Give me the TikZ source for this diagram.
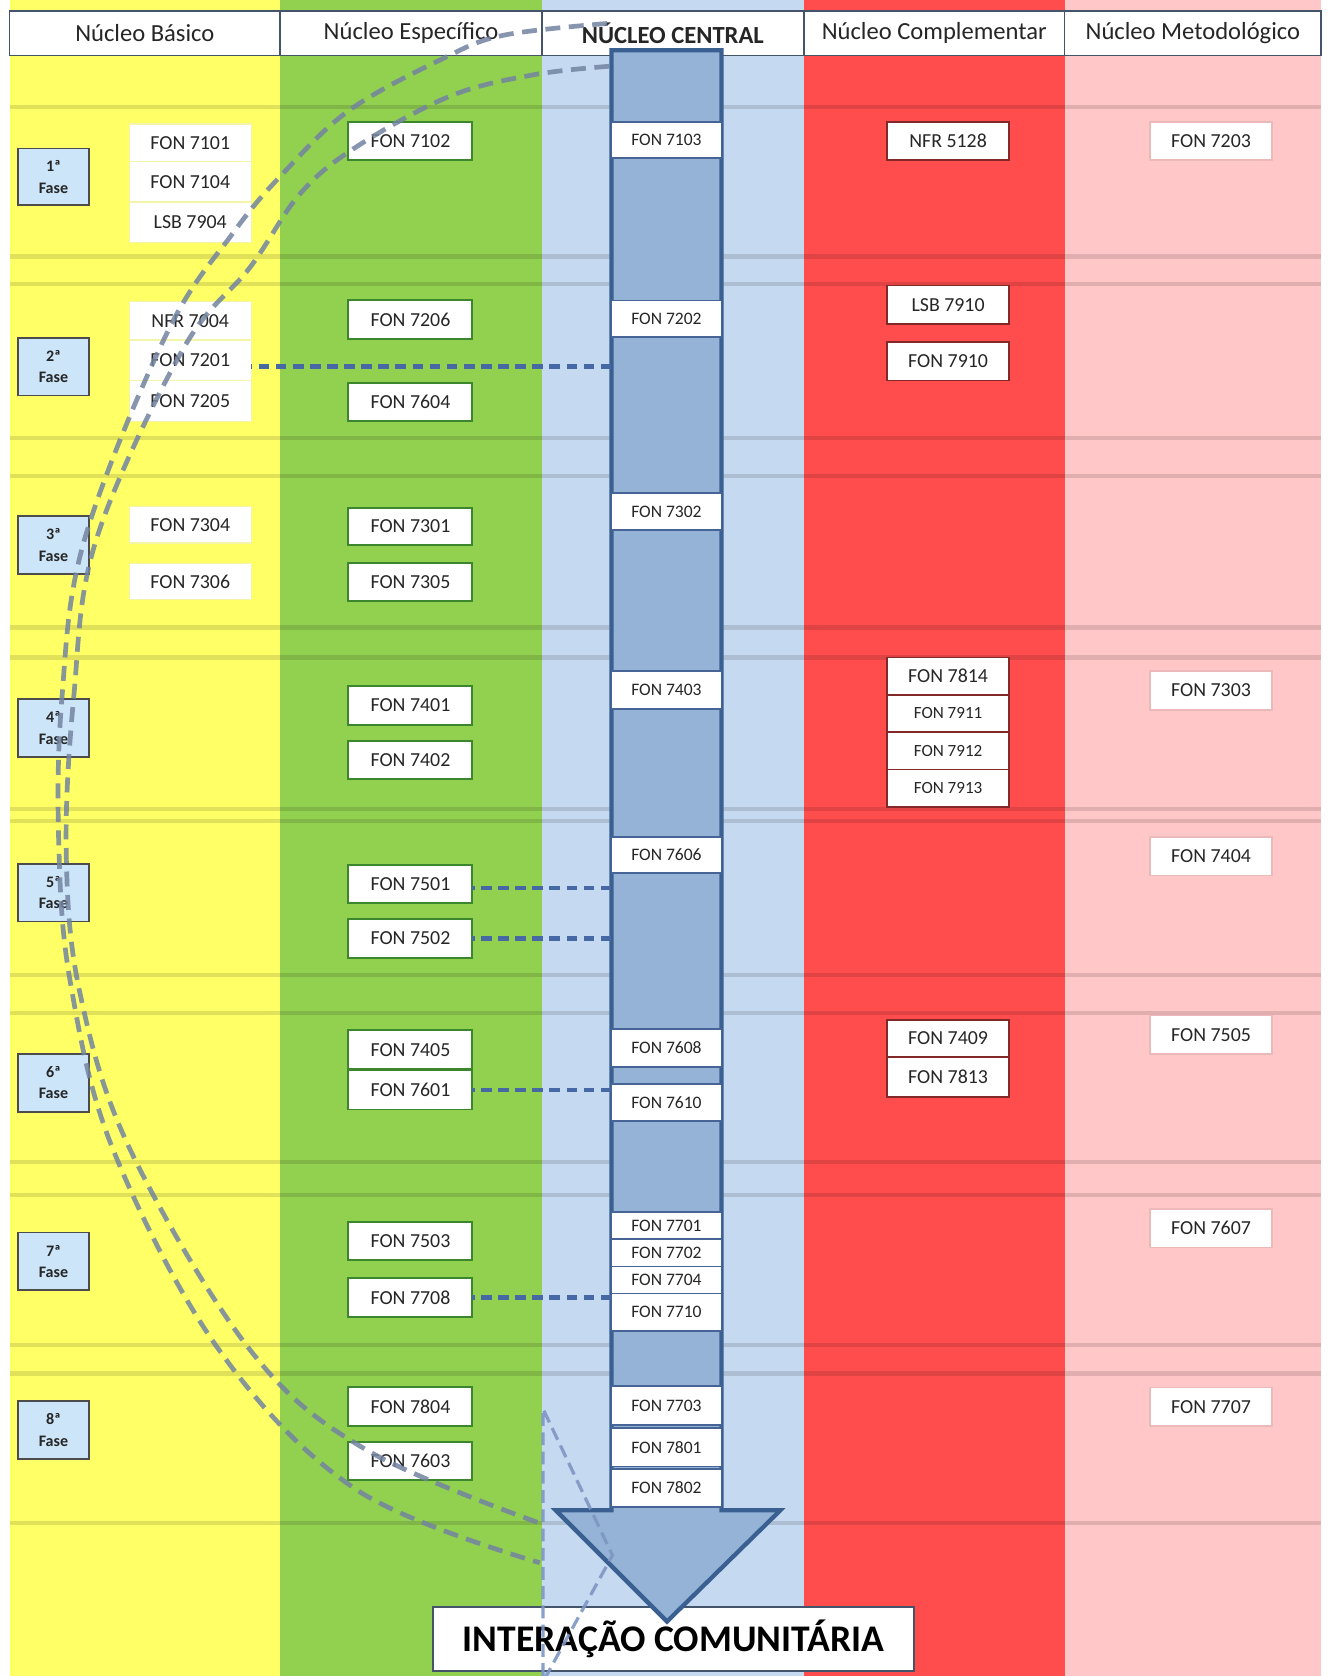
\documentclass[tikz,border=0pt]{standalone}
\usepackage{fontspec}
\setmainfont{Carlito}
\usetikzlibrary{calc}
\definecolor{cyel}{RGB}{255,255,102}
\definecolor{cgrn}{RGB}{146,208,80}
\definecolor{cblu}{RGB}{197,217,241}
\definecolor{cred}{RGB}{255,77,77}
\definecolor{cpnk}{RGB}{255,199,199}
\definecolor{cbar}{RGB}{149,179,215}
\definecolor{cbarb}{RGB}{58,95,145}
\definecolor{hdrb}{RGB}{68,84,106}
\definecolor{gborder}{RGB}{60,135,45}
\definecolor{cborder}{RGB}{70,100,150}
\definecolor{rborder}{RGB}{130,40,40}
\definecolor{pborder}{RGB}{235,185,185}
\definecolor{yborder}{RGB}{245,245,170}
\definecolor{cfase}{RGB}{204,229,248}
\definecolor{clink}{RGB}{70,105,165}
\definecolor{carc}{RGB}{115,132,160}
\definecolor{cbot}{RGB}{125,150,195}
\newcommand\placebox[7]{\node[#1, minimum width={(#4-#2)*0.5pt}, minimum height={(#5-#3)*0.5pt}] (#6) at ({(#2+#4)/2},{(#3+#5)/2}) {#7};}
\begin{document}
\begin{tikzpicture}[x=0.5pt,y=-0.5pt]
\tikzset{
  hdr/.style={draw=hdrb, line width=0.8pt, fill=white, inner sep=0pt, outer sep=0pt, font=\fontsize{11.5pt}{13pt}\selectfont, text=black!85},
  basebox/.style={fill=white, inner sep=0pt, outer sep=0pt, text=black!85, font=\fontsize{9.3pt}{11pt}\selectfont},
  ybox/.style={basebox, draw=yborder, line width=0.6pt},
  gbox/.style={basebox, draw=gborder, line width=0.9pt},
  cenbox/.style={basebox, draw=cborder, line width=0.8pt, font=\fontsize{8.2pt}{10pt}\selectfont},
  rbox/.style={basebox, draw=rborder, line width=0.8pt},
  rsbox/.style={rbox, font=\fontsize{8pt}{10pt}\selectfont},
  pbox/.style={basebox, draw=pborder, line width=0.8pt},
  fase/.style={fill=cfase, draw=black!70, line width=0.8pt, inner sep=0pt, outer sep=0pt, align=center, text=black!85, font=\bfseries\fontsize{7.5pt}{10pt}\selectfont},
  hlink/.style={draw=clink, line width=2pt, dash pattern=on 5pt off 3pt},
  arcdash/.style={draw=carc, line width=2.2pt, dash pattern=on 7pt off 4pt, opacity=0.85},
  botdash/.style={draw=cbot, line width=1.5pt, dash pattern=on 6pt off 3pt, opacity=0.9},
  rowline/.style={draw=black, opacity=0.12, line width=2pt},
  bigbox/.style={fill=white, draw=hdrb, line width=0.9pt, inner sep=0pt, outer sep=0pt, text=black, font=\bfseries\fontsize{17.6pt}{20pt}\selectfont},
}
\useasboundingbox (0,0) rectangle (1244,1568);
\fill[white] (0,0) rectangle (1244,1568);
% columns
\fill[cyel] (9,0) rectangle (262,1568);
\fill[cgrn] (262,0) rectangle (507,1568);
\fill[cblu] (507,0) rectangle (752,1568);
\fill[cred] (752,0) rectangle (996,1568);
\fill[cpnk] (996,0) rectangle (1236,1568);
% row lines
\foreach \yy in {100,240,266,410,445,587,615,757,768,912,948,1087,1118,1258,1285,1425}
  \draw[rowline] (9,\yy) -- (1236,\yy);
% header
\placebox{hdr}{9}{10}{262}{52}{h1}{Núcleo Básico}
\placebox{hdr}{262}{10}{507}{52}{h2}{Núcleo Específico}
\placebox{hdr}{507}{10}{752}{52}{h3}{\textbf{NÚCLEO CENTRAL}}
\placebox{hdr}{752}{10}{996}{52}{h4}{Núcleo Complementar}
\placebox{hdr}{996}{10}{1236}{52}{h5}{Núcleo Metodológico}
% fases
\placebox{fase}{17}{139}{83}{192}{f1}{1ª\\Fase}
\placebox{fase}{17}{316}{83}{370}{f2}{2ª\\Fase}
\placebox{fase}{17}{483}{83}{537}{f3}{3ª\\Fase}
\placebox{fase}{17}{654}{83}{708}{f4}{4ª\\Fase}
\placebox{fase}{17}{808}{83}{862}{f5}{5ª\\Fase}
\placebox{fase}{17}{986}{83}{1040}{f6}{6ª\\Fase}
\placebox{fase}{17}{1153}{83}{1207}{f7}{7ª\\Fase}
\placebox{fase}{17}{1311}{83}{1365}{f8}{8ª\\Fase}
% basic column
\placebox{ybox}{121}{116}{235}{151}{b7101}{FON 7101}
\placebox{ybox}{121}{151}{235}{189}{b7104}{FON 7104}
\placebox{ybox}{121}{189}{235}{227}{b7904}{LSB 7904}
\placebox{ybox}{121}{282}{235}{318}{b7004}{NFR 7004}
\placebox{ybox}{121}{318}{235}{356}{b7201}{FON 7201}
\placebox{ybox}{121}{356}{235}{394}{b7205}{FON 7205}
\placebox{ybox}{121}{474}{235}{508}{b7304}{FON 7304}
\placebox{ybox}{121}{527}{235}{561}{b7306}{FON 7306}
% specific column
\placebox{gbox}{326}{114}{442}{150}{e7102}{FON 7102}
\placebox{gbox}{326}{281}{442}{317}{e7206}{FON 7206}
\placebox{gbox}{326}{358}{442}{394}{e7604}{FON 7604}
\placebox{gbox}{326}{475}{442}{510}{e7301}{FON 7301}
\placebox{gbox}{326}{527}{442}{562}{e7305}{FON 7305}
\placebox{gbox}{326}{642}{442}{678}{e7401}{FON 7401}
\placebox{gbox}{326}{693}{442}{729}{e7402}{FON 7402}
\placebox{gbox}{326}{809}{442}{845}{e7501}{FON 7501}
\placebox{gbox}{326}{860}{442}{896}{e7502}{FON 7502}
\placebox{gbox}{326}{964}{442}{1000}{e7405}{FON 7405}
\placebox{gbox}{326}{1001}{442}{1038}{e7601}{FON 7601}
\placebox{gbox}{326}{1143}{442}{1179}{e7503}{FON 7503}
\placebox{gbox}{326}{1196}{442}{1232}{e7708}{FON 7708}
\placebox{gbox}{326}{1298}{442}{1334}{e7804}{FON 7804}
\placebox{gbox}{326}{1349}{442}{1385}{e7603}{FON 7603}
% complementary column
\placebox{rbox}{830}{114}{944}{150}{r5128}{NFR 5128}
\placebox{rbox}{830}{267}{944}{303}{r7910l}{LSB 7910}
\placebox{rbox}{830}{320}{944}{356}{r7910}{FON 7910}
\placebox{rbox}{830}{615}{944}{650}{r7814}{FON 7814}
\placebox{rsbox}{830}{650}{944}{685}{r7911}{FON 7911}
\placebox{rsbox}{830}{685}{944}{720}{r7912}{FON 7912}
\placebox{rsbox}{830}{720}{944}{755}{r7913}{FON 7913}
\placebox{rbox}{830}{954}{944}{989}{r7409}{FON 7409}
\placebox{rbox}{830}{989}{944}{1026}{r7813}{FON 7813}
% methodological column
\placebox{pbox}{1076}{114}{1190}{150}{p7203}{FON 7203}
\placebox{pbox}{1076}{628}{1190}{664}{p7303}{FON 7303}
\placebox{pbox}{1076}{783}{1190}{819}{p7404}{FON 7404}
\placebox{pbox}{1076}{950}{1190}{986}{p7505}{FON 7505}
\placebox{pbox}{1076}{1131}{1190}{1167}{p7607}{FON 7607}
\placebox{pbox}{1076}{1298}{1190}{1334}{p7707}{FON 7707}
% result box
\placebox{bigbox}{405}{1503}{855}{1563}{ic}{INTERAÇÃO COMUNITÁRIA}
% central arrow
\coordinate (barL) at (572,0);
\draw[cbarb, fill=cbar, line width=2pt, line join=miter]
  (572,47) -- (675,47) -- (675,1413) -- (730,1413) -- (624,1517) -- (520,1413) -- (572,1413) -- cycle;
% central boxes
\placebox{cenbox}{572}{114}{675}{148}{c7103}{FON 7103}
\placebox{cenbox}{572}{281}{675}{315}{c7202}{FON 7202}
\placebox{cenbox}{572}{461}{675}{496}{c7302}{FON 7302}
\placebox{cenbox}{572}{628}{675}{663}{c7403}{FON 7403}
\placebox{cenbox}{572}{783}{675}{817}{c7606}{FON 7606}
\placebox{cenbox}{572}{963}{675}{998}{c7608}{FON 7608}
\placebox{cenbox}{572}{1014}{675}{1049}{c7610}{FON 7610}
\placebox{cenbox}{572}{1134}{675}{1159}{c7701}{FON 7701}
\placebox{cenbox}{572}{1159}{675}{1185}{c7702}{FON 7702}
\placebox{cenbox}{572}{1185}{675}{1210}{c7704}{FON 7704}
\placebox{cenbox}{572}{1210}{675}{1245}{c7710}{FON 7710}
\placebox{cenbox}{572}{1297}{675}{1333}{c7703}{FON 7703}
\placebox{cenbox}{572}{1336}{675}{1372}{c7801}{FON 7801}
\placebox{cenbox}{572}{1374}{675}{1410}{c7802}{FON 7802}
% horizontal dashed links (drawn from the bar so a full dash meets it)
\draw[hlink] ([yshift=-3pt]b7201.east -| barL) -- ([yshift=-3pt]b7201.east);
\draw[hlink] ([yshift=-2pt]e7501.east -| barL) -- ([yshift=-2pt]e7501.east);
\draw[hlink] (e7502.east -| barL) -- (e7502.east);
\draw[hlink] (e7601.east -| barL) -- (e7601.east);
\draw[hlink] (e7708.east -| barL) -- (e7708.east);
% big dashed arcs
\draw[arcdash] plot[smooth, tension=0.6] coordinates {(568,22) (471,33) (414,55) (327,103) (265,162) (218,218) (156,312) (79,505) (58,652) (55,790) (66,920) (106,1076) (205,1263) (334,1394) (505,1462)};
\draw[arcdash] plot[smooth, tension=0.6] coordinates {(570,62) (499,70) (421,90) (334,137) (281,181) (234,250) (171,327) (90,505) (69,652) (62,800) (75,930) (122,1076) (234,1263) (342,1356) (505,1425)};
% bottom dashed lines
\draw[botdash] (508,1568) -- (508,1318) -- (573,1455) -- (511,1568);
\end{tikzpicture}
\end{document}
